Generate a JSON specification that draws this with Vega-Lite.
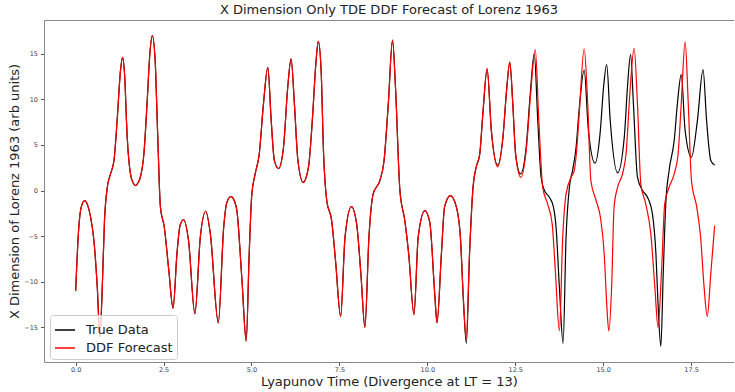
{
  "$schema": "https://vega.github.io/schema/vega-lite/v6.json",
  "autosize": "none",
  "padding": {"left": 44, "top": 20, "right": 0, "bottom": 30},
  "width": 690,
  "height": 342,
  "background": "white",
  "config": {
    "view": {"stroke": null},
    "font": "DejaVu Sans",
    "axis": {"grid": false, "labelFont": "DejaVu Sans", "titleFont": "DejaVu Sans", "labelFontSize": 6.5, "labelColor": "#444", "tickSize": 3.5, "tickColor": "#555", "domainColor": "#888", "titleFontSize": 13, "titleFontWeight": "normal", "titleColor": "#222"}
  },
  "title": {"text": "X Dimension Only TDE DDF Forecast of Lorenz 1963", "fontSize": 13, "fontWeight": "normal", "font": "DejaVu Sans", "color": "#222", "offset": 3},
  "datasets": {
    "truth": [
      {"t":0.0,"v":-11.0},{"t":0.09,"v":-4.0},{"t":0.16,"v":-1.8},{"t":0.255,"v":-1.1},{"t":0.34,"v":-1.6},{"t":0.425,"v":-2.9},{"t":0.52,"v":-5.5},{"t":0.615,"v":-10.6},{"t":0.69,"v":-16.0},{"t":0.757,"v":-10.6},{"t":0.82,"v":-3.3},{"t":0.9,"v":0.36},{"t":0.99,"v":1.8},{"t":1.09,"v":3.3},{"t":1.18,"v":7.7},{"t":1.276,"v":13.2},{"t":1.333,"v":14.6},{"t":1.39,"v":12.8},{"t":1.466,"v":5.85},{"t":1.56,"v":1.8},{"t":1.64,"v":0.8},{"t":1.71,"v":0.55},{"t":1.78,"v":0.9},{"t":1.84,"v":1.46},{"t":1.94,"v":4.0},{"t":2.03,"v":9.5},{"t":2.11,"v":15.0},{"t":2.18,"v":17.0},{"t":2.26,"v":14.3},{"t":2.335,"v":5.85},{"t":2.41,"v":-1.8},{"t":2.52,"v":-4.0},{"t":2.65,"v":-8.8},{"t":2.77,"v":-12.9},{"t":2.88,"v":-6.95},{"t":2.97,"v":-3.8},{"t":3.07,"v":-3.2},{"t":3.21,"v":-5.5},{"t":3.39,"v":-13.5},{"t":3.545,"v":-5.1},{"t":3.7,"v":-2.27},{"t":3.83,"v":-4.75},{"t":4.056,"v":-14.5},{"t":4.21,"v":-4.0},{"t":4.3,"v":-1.3},{"t":4.415,"v":-0.66},{"t":4.52,"v":-1.2},{"t":4.585,"v":-2.2},{"t":4.73,"v":-9.9},{"t":4.85,"v":-16.5},{"t":4.935,"v":-6.9},{"t":5.01,"v":-0.37},{"t":5.105,"v":1.83},{"t":5.22,"v":4.0},{"t":5.34,"v":9.5},{"t":5.465,"v":13.5},{"t":5.56,"v":7.7},{"t":5.65,"v":3.3},{"t":5.77,"v":2.4},{"t":5.91,"v":4.75},{"t":6.03,"v":11.3},{"t":6.126,"v":14.45},{"t":6.22,"v":9.5},{"t":6.32,"v":3.3},{"t":6.47,"v":0.9},{"t":6.62,"v":2.56},{"t":6.73,"v":7.7},{"t":6.83,"v":13.9},{"t":6.9,"v":16.35},{"t":6.98,"v":13.2},{"t":7.05,"v":4.0},{"t":7.14,"v":-1.1},{"t":7.28,"v":-3.3},{"t":7.39,"v":-7.7},{"t":7.535,"v":-13.8},{"t":7.66,"v":-5.1},{"t":7.84,"v":-1.76},{"t":7.99,"v":-3.66},{"t":8.11,"v":-9.1},{"t":8.225,"v":-15.0},{"t":8.34,"v":-5.1},{"t":8.46,"v":-0.37},{"t":8.65,"v":1.1},{"t":8.77,"v":3.3},{"t":8.89,"v":9.5},{"t":9.01,"v":16.5},{"t":9.095,"v":11.3},{"t":9.22,"v":0.0},{"t":9.36,"v":-3.3},{"t":9.47,"v":-6.95},{"t":9.62,"v":-13.6},{"t":9.74,"v":-5.1},{"t":9.93,"v":-2.2},{"t":10.07,"v":-3.5},{"t":10.21,"v":-11.3},{"t":10.275,"v":-14.5},{"t":10.4,"v":-6.95},{"t":10.49,"v":-1.8},{"t":10.655,"v":-0.55},{"t":10.825,"v":-1.8},{"t":10.94,"v":-5.1},{"t":11.03,"v":-12.4},{"t":11.11,"v":-16.75},{"t":11.2,"v":-6.95},{"t":11.3,"v":0.37},{"t":11.39,"v":2.56},{"t":11.49,"v":4.0},{"t":11.58,"v":8.4},{"t":11.7,"v":13.3},{"t":11.82,"v":6.6},{"t":12.0,"v":2.8},{"t":12.15,"v":5.85},{"t":12.26,"v":11.3},{"t":12.345,"v":14.05},{"t":12.43,"v":9.5},{"t":12.51,"v":4.0},{"t":12.65,"v":1.83},{"t":12.81,"v":4.75},{"t":12.92,"v":10.25},{"t":13.04,"v":15.0},{"t":13.14,"v":7.7},{"t":13.235,"v":1.46},{"t":13.33,"v":0.0},{"t":13.47,"v":-0.73},{"t":13.585,"v":-1.8},{"t":13.66,"v":-4.0},{"t":13.755,"v":-10.6},{"t":13.86,"v":-16.75},{"t":13.945,"v":-5.1},{"t":14.04,"v":0.37},{"t":14.13,"v":2.2},{"t":14.23,"v":4.75},{"t":14.32,"v":9.0},{"t":14.46,"v":13.2},{"t":14.58,"v":6.6},{"t":14.77,"v":3.0},{"t":14.92,"v":6.6},{"t":15.01,"v":11.3},{"t":15.1,"v":13.8},{"t":15.2,"v":7.7},{"t":15.41,"v":1.94},{"t":15.6,"v":5.85},{"t":15.69,"v":11.3},{"t":15.78,"v":14.9},{"t":15.86,"v":9.5},{"t":15.975,"v":1.46},{"t":16.12,"v":0.0},{"t":16.26,"v":-0.73},{"t":16.4,"v":-2.56},{"t":16.5,"v":-6.95},{"t":16.56,"v":-12.4},{"t":16.64,"v":-17.1},{"t":16.71,"v":-8.8},{"t":16.78,"v":-1.46},{"t":16.875,"v":2.2},{"t":17.02,"v":5.5},{"t":17.11,"v":9.5},{"t":17.22,"v":12.7},{"t":17.33,"v":6.6},{"t":17.51,"v":3.66},{"t":17.68,"v":7.7},{"t":17.84,"v":13.25},{"t":17.94,"v":7.7},{"t":18.06,"v":3.3},{"t":18.17,"v":2.8}
    ],
    "ddf": [
      {"t":0.0,"v":-11.0},{"t":0.09,"v":-4.0},{"t":0.16,"v":-1.8},{"t":0.255,"v":-1.1},{"t":0.34,"v":-1.6},{"t":0.425,"v":-2.9},{"t":0.52,"v":-5.5},{"t":0.615,"v":-10.6},{"t":0.69,"v":-16.0},{"t":0.757,"v":-10.6},{"t":0.82,"v":-3.3},{"t":0.9,"v":0.36},{"t":0.99,"v":1.8},{"t":1.09,"v":3.3},{"t":1.18,"v":7.7},{"t":1.276,"v":13.2},{"t":1.333,"v":14.6},{"t":1.39,"v":12.8},{"t":1.466,"v":5.85},{"t":1.56,"v":1.8},{"t":1.64,"v":0.8},{"t":1.71,"v":0.55},{"t":1.78,"v":0.9},{"t":1.84,"v":1.46},{"t":1.94,"v":4.0},{"t":2.03,"v":9.5},{"t":2.11,"v":15.0},{"t":2.18,"v":17.0},{"t":2.26,"v":14.3},{"t":2.335,"v":5.85},{"t":2.41,"v":-1.8},{"t":2.52,"v":-4.0},{"t":2.65,"v":-8.8},{"t":2.77,"v":-12.9},{"t":2.88,"v":-6.95},{"t":2.97,"v":-3.8},{"t":3.07,"v":-3.2},{"t":3.21,"v":-5.5},{"t":3.39,"v":-13.5},{"t":3.545,"v":-5.1},{"t":3.7,"v":-2.27},{"t":3.83,"v":-4.75},{"t":4.056,"v":-14.5},{"t":4.21,"v":-4.0},{"t":4.3,"v":-1.3},{"t":4.415,"v":-0.66},{"t":4.52,"v":-1.2},{"t":4.585,"v":-2.2},{"t":4.73,"v":-9.9},{"t":4.85,"v":-16.5},{"t":4.935,"v":-6.9},{"t":5.01,"v":-0.37},{"t":5.105,"v":1.83},{"t":5.22,"v":4.0},{"t":5.34,"v":9.5},{"t":5.465,"v":13.5},{"t":5.56,"v":7.7},{"t":5.65,"v":3.3},{"t":5.77,"v":2.4},{"t":5.91,"v":4.75},{"t":6.03,"v":11.3},{"t":6.126,"v":14.45},{"t":6.22,"v":9.5},{"t":6.32,"v":3.3},{"t":6.47,"v":0.9},{"t":6.62,"v":2.56},{"t":6.73,"v":7.7},{"t":6.83,"v":13.9},{"t":6.9,"v":16.35},{"t":6.98,"v":13.2},{"t":7.05,"v":4.0},{"t":7.14,"v":-1.1},{"t":7.28,"v":-3.3},{"t":7.39,"v":-7.7},{"t":7.535,"v":-13.8},{"t":7.66,"v":-5.1},{"t":7.84,"v":-1.76},{"t":7.99,"v":-3.66},{"t":8.11,"v":-9.1},{"t":8.225,"v":-15.0},{"t":8.34,"v":-5.1},{"t":8.46,"v":-0.37},{"t":8.65,"v":1.1},{"t":8.77,"v":3.3},{"t":8.89,"v":9.5},{"t":9.01,"v":16.5},{"t":9.095,"v":11.3},{"t":9.22,"v":0.0},{"t":9.36,"v":-3.3},{"t":9.47,"v":-6.95},{"t":9.62,"v":-13.6},{"t":9.74,"v":-5.1},{"t":9.93,"v":-2.2},{"t":10.07,"v":-3.5},{"t":10.21,"v":-11.3},{"t":10.275,"v":-14.5},{"t":10.4,"v":-6.95},{"t":10.49,"v":-1.8},{"t":10.655,"v":-0.55},{"t":10.825,"v":-1.8},{"t":10.94,"v":-5.1},{"t":11.03,"v":-12.2},{"t":11.105,"v":-16.3},{"t":11.2,"v":-6.95},{"t":11.3,"v":0.37},{"t":11.39,"v":2.56},{"t":11.49,"v":4.0},{"t":11.58,"v":8.6},{"t":11.7,"v":13.4},{"t":11.82,"v":6.6},{"t":12.0,"v":2.6},{"t":12.15,"v":5.85},{"t":12.26,"v":11.3},{"t":12.345,"v":14.1},{"t":12.43,"v":9.5},{"t":12.51,"v":4.0},{"t":12.66,"v":1.46},{"t":12.82,"v":4.75},{"t":12.93,"v":10.25},{"t":13.07,"v":15.45},{"t":13.17,"v":7.7},{"t":13.28,"v":0.37},{"t":13.42,"v":-1.46},{"t":13.55,"v":-3.66},{"t":13.64,"v":-8.8},{"t":13.755,"v":-15.4},{"t":13.85,"v":-5.1},{"t":13.945,"v":-0.37},{"t":14.09,"v":1.46},{"t":14.18,"v":2.2},{"t":14.24,"v":4.2},{"t":14.32,"v":8.5},{"t":14.46,"v":15.55},{"t":14.56,"v":9.5},{"t":14.65,"v":1.1},{"t":14.8,"v":-1.1},{"t":14.92,"v":-2.9},{"t":15.03,"v":-6.95},{"t":15.1,"v":-12.4},{"t":15.16,"v":-15.4},{"t":15.24,"v":-10.6},{"t":15.31,"v":-1.8},{"t":15.41,"v":0.37},{"t":15.55,"v":1.83},{"t":15.65,"v":4.0},{"t":15.77,"v":11.3},{"t":15.88,"v":15.6},{"t":15.975,"v":9.5},{"t":16.07,"v":0.73},{"t":16.21,"v":-1.46},{"t":16.355,"v":-4.75},{"t":16.47,"v":-10.6},{"t":16.56,"v":-15.0},{"t":16.66,"v":-8.8},{"t":16.75,"v":-1.46},{"t":16.875,"v":0.37},{"t":17.02,"v":1.83},{"t":17.13,"v":4.0},{"t":17.22,"v":9.5},{"t":17.33,"v":16.3},{"t":17.42,"v":9.5},{"t":17.51,"v":1.1},{"t":17.66,"v":-1.8},{"t":17.77,"v":-5.1},{"t":17.87,"v":-10.6},{"t":17.96,"v":-13.8},{"t":18.06,"v":-9.1},{"t":18.17,"v":-3.85}
    ]
  },
  "layer": [
    {
      "data": {"name": "truth"},
      "mark": {"type": "line", "strokeWidth": 1.2, "interpolate": "monotone"},
      "encoding": {
        "x": {"field": "t", "type": "quantitative", "scale": {"domain": [-0.9, 18.72], "nice": false, "zero": false},
              "axis": {"orient": "bottom", "values": [0, 2.5, 5, 7.5, 10, 12.5, 15, 17.5], "format": ".1f", "title": "Lyapunov Time (Divergence at LT = 13)", "labelPadding": 1, "titlePadding": 2}},
        "y": {"field": "v", "type": "quantitative", "scale": {"domain": [-18.8, 18.7], "nice": false, "zero": false},
              "axis": {"values": [-15, -10, -5, 0, 5, 10, 15], "format": "d", "title": "X Dimension of Lorenz 1963 (arb units)", "labelPadding": 3, "titlePadding": 2}},
        "color": {"datum": "True Data", "type": "nominal",
                  "scale": {"domain": ["True Data", "DDF Forecast"], "range": ["black", "red"]},
                  "legend": {"orient": "none", "legendX": 6, "legendY": 295, "title": null, "labelFontSize": 13, "labelFont": "DejaVu Sans", "labelColor": "#222", "symbolType": "stroke", "symbolSize": 400, "symbolStrokeWidth": 1.5, "fillColor": "rgba(255,255,255,0.8)", "strokeColor": "#cccccc", "cornerRadius": 3, "padding": 4, "rowPadding": 0, "labelOffset": 10}}
      }
    },
    {
      "data": {"name": "ddf"},
      "mark": {"type": "line", "strokeWidth": 1.2, "interpolate": "monotone"},
      "encoding": {
        "x": {"field": "t", "type": "quantitative", "axis": {"orient": "top", "ticks": false, "labels": false, "title": null, "domain": true}},
        "y": {"field": "v", "type": "quantitative"},
        "color": {"datum": "DDF Forecast", "type": "nominal"}
      }
    }
  ],
  "resolve": {"axis": {"x": "independent"}}
}
